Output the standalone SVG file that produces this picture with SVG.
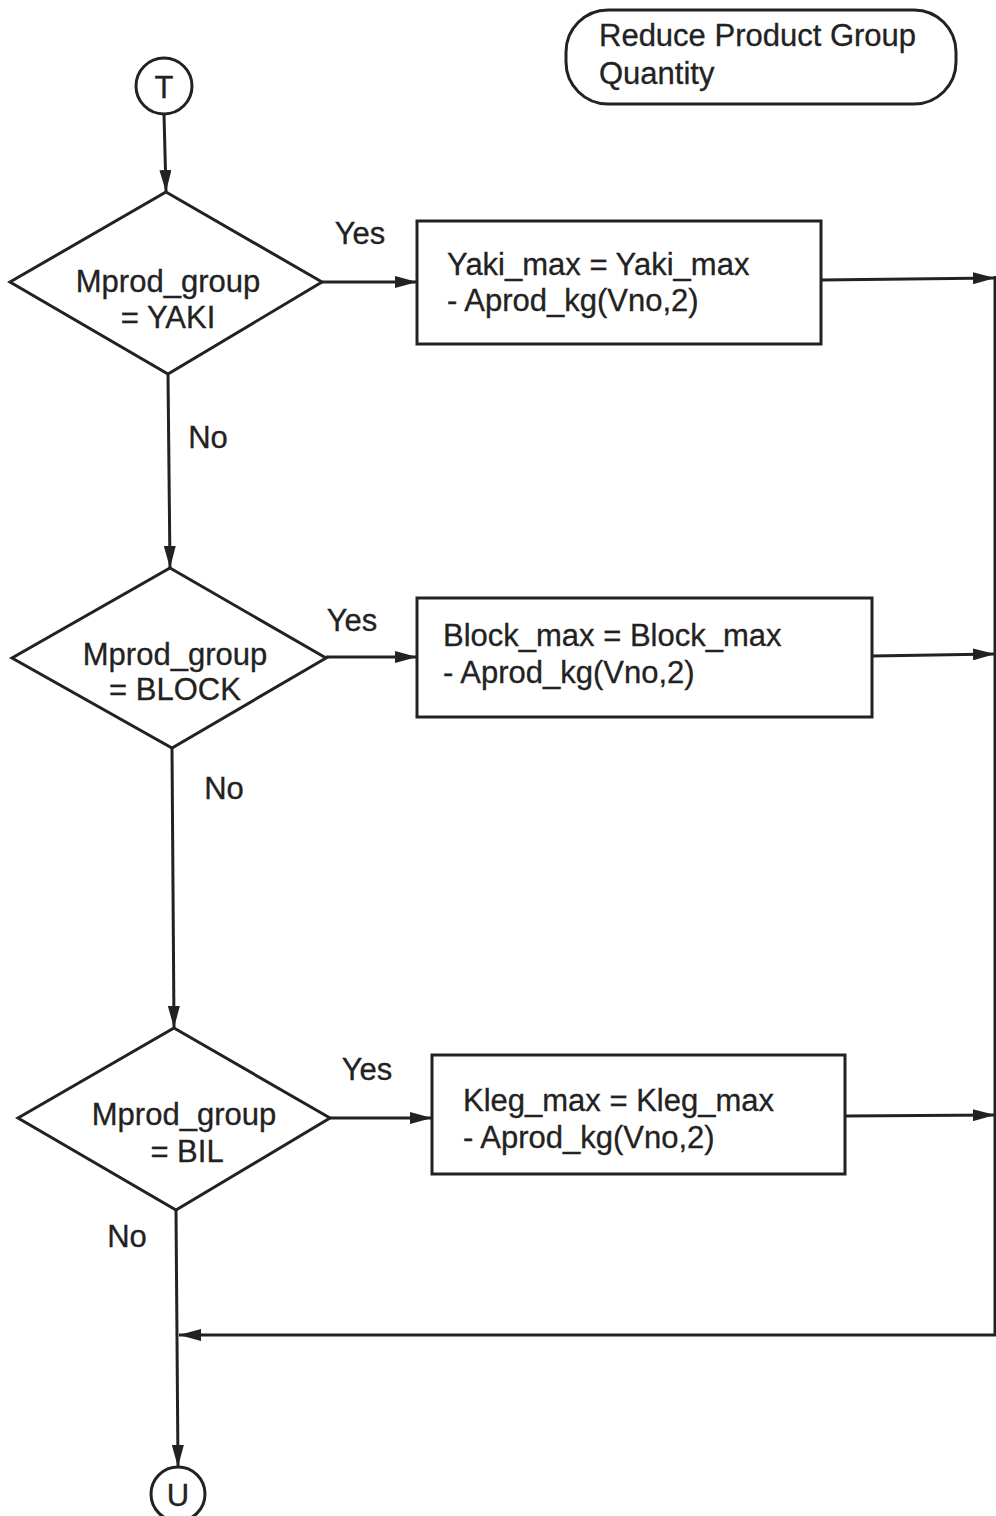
<svg xmlns="http://www.w3.org/2000/svg" width="996" height="1516" viewBox="0 0 996 1516">
  <style>
    .shape { fill: none; stroke: #222; stroke-width: 3; }
    .line { fill: none; stroke: #222; stroke-width: 3; }
    .t { font-family: "Liberation Sans", Arial, sans-serif; font-size: 31px; fill: #222; stroke: #222; stroke-width: 0.3; }
    .c { text-anchor: middle; }
  </style>
  <defs>
    <marker id="arrow" viewBox="0 0 22 12" refX="22" refY="6" markerWidth="22" markerHeight="12" markerUnits="userSpaceOnUse" orient="auto">
      <path d="M0,0 L22,6 L0,12 z" fill="#222"/>
    </marker>
  </defs>
  <rect width="996" height="1516" fill="#fff"/>

  <!-- title -->
  <g id="title">
    <rect x="566" y="10" width="390" height="94" rx="42" ry="42" class="shape"/>
    <text x="599" y="46" class="t">Reduce Product Group</text>
    <text x="599" y="84" class="t">Quantity</text>
  </g>

  <!-- entry connector -->
  <g id="start">
    <circle cx="164" cy="86" r="28" class="shape"/>
    <text x="164" y="98" class="t c">T</text>
  </g>

  <!-- decisions -->
  <g id="dec-yaki">
    <polygon points="166,192 322,282 168,374 10,282" class="shape"/>
    <text x="168" y="292" class="t c">Mprod_group</text>
    <text x="168" y="328" class="t c">= YAKI</text>
  </g>
  <g id="dec-block">
    <polygon points="170,568 326,658 172,748 12,658" class="shape"/>
    <text x="175" y="665" class="t c">Mprod_group</text>
    <text x="175" y="700" class="t c">= BLOCK</text>
  </g>
  <g id="dec-bil">
    <polygon points="174,1028 330,1118 176,1210 18,1118" class="shape"/>
    <text x="184" y="1125" class="t c">Mprod_group</text>
    <text x="187" y="1162" class="t c">= BIL</text>
  </g>

  <!-- processes -->
  <g id="proc-yaki">
    <rect x="417" y="221" width="404" height="123" class="shape"/>
    <text x="447" y="275" class="t">Yaki_max = Yaki_max</text>
    <text x="447" y="311" class="t">- Aprod_kg(Vno,2)</text>
  </g>
  <g id="proc-block">
    <rect x="417" y="598" width="455" height="119" class="shape"/>
    <text x="443" y="646" class="t">Block_max = Block_max</text>
    <text x="443" y="683" class="t">- Aprod_kg(Vno,2)</text>
  </g>
  <g id="proc-bil">
    <rect x="432" y="1055" width="413" height="119" class="shape"/>
    <text x="463" y="1111" class="t">Kleg_max = Kleg_max</text>
    <text x="463" y="1148" class="t">- Aprod_kg(Vno,2)</text>
  </g>

  <!-- exit connector -->
  <g id="end">
    <circle cx="178" cy="1494" r="27" class="shape"/>
    <text x="178" y="1506" class="t c">U</text>
  </g>

  <!-- connectors -->
  <g id="connectors">
    <line x1="164" y1="114" x2="166" y2="192" class="line" marker-end="url(#arrow)"/>
    <line x1="168" y1="374" x2="170" y2="568" class="line" marker-end="url(#arrow)"/>
    <line x1="172" y1="748" x2="174" y2="1028" class="line" marker-end="url(#arrow)"/>
    <line x1="176" y1="1210" x2="178" y2="1467" class="line" marker-end="url(#arrow)"/>

    <line x1="322" y1="282" x2="417" y2="282" class="line" marker-end="url(#arrow)"/>
    <line x1="326" y1="657" x2="417" y2="657" class="line" marker-end="url(#arrow)"/>
    <line x1="330" y1="1118" x2="432" y2="1118" class="line" marker-end="url(#arrow)"/>

    <line x1="821" y1="280" x2="995" y2="278" class="line" marker-end="url(#arrow)"/>
    <line x1="872" y1="656" x2="995" y2="654" class="line" marker-end="url(#arrow)"/>
    <line x1="845" y1="1116" x2="995" y2="1115" class="line" marker-end="url(#arrow)"/>

    <polyline points="995,276 995,1335 179,1335" class="line" marker-end="url(#arrow)"/>

    <text x="360" y="244" class="t c">Yes</text>
    <text x="352" y="631" class="t c">Yes</text>
    <text x="367" y="1080" class="t c">Yes</text>
    <text x="208" y="448" class="t c">No</text>
    <text x="224" y="799" class="t c">No</text>
    <text x="127" y="1247" class="t c">No</text>
  </g>
</svg>
